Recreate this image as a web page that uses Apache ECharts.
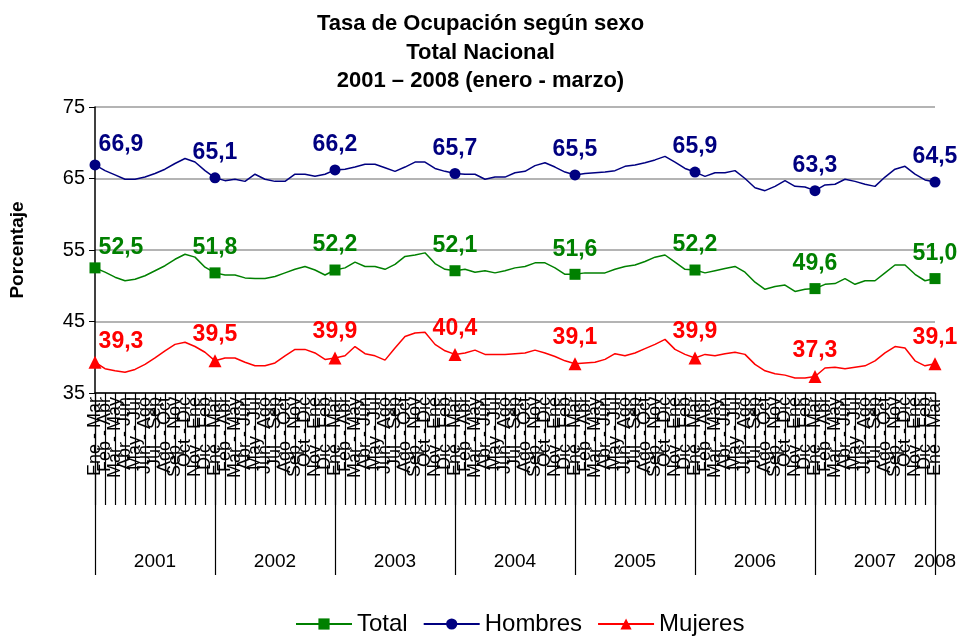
<!DOCTYPE html>
<html>
<head>
    <meta charset="utf-8">
    <title>Tasa de Ocupación según sexo</title>
    <script src="https://cdn.jsdelivr.net/npm/echarts@6/dist/echarts.min.js"></script>
</head>
<body style="margin:0">
    <div id="chart" style="width: 961px; height: 641px;"></div>
    <script type="text/javascript">
        // trimestres móviles y años
        const quarters = ['Ene - Mar', 'Feb - Abr', 'Mar - May', 'Abr - Jun', 'May - Jul', 'Jun - Ago',
                          'Jul - Sep', 'Ago - Oct', 'Sep - Nov', 'Oct - Dic', 'Nov - Ene', 'Dic - Feb'];
        const years = ['2001', '2002', '2003', '2004', '2005', '2006', '2007', '2008'];

        const total = [
            52.5, 51.9, 51.2, 50.7, 50.9, 51.4, 52.1, 52.8, 53.7, 54.4, 54.0, 52.6,
            51.8, 51.5, 51.5, 51.1, 51.0, 51.0, 51.3, 51.8, 52.3, 52.7, 52.2, 51.5,
            52.2, 52.5, 53.3, 52.7, 52.7, 52.3, 53.0, 54.1, 54.3, 54.6, 53.1, 52.3,
            52.1, 52.3, 51.9, 52.1, 51.8, 52.1, 52.5, 52.7, 53.2, 53.2, 52.5, 51.6,
            51.6, 51.8, 51.8, 51.8, 52.3, 52.7, 52.9, 53.4, 54.0, 54.3, 53.3, 52.3,
            52.2, 51.8, 52.1, 52.4, 52.7, 51.9, 50.5, 49.5, 49.9, 50.1, 49.2, 49.5,
            49.6, 50.2, 50.3, 51.0, 50.2, 50.7, 50.7, 51.8, 52.9, 52.9, 51.6, 50.7,
            51.0
        ];
        const hombres = [
            66.9, 66.1, 65.5, 64.9, 64.9, 65.2, 65.7, 66.3, 67.1, 67.8, 67.3, 66.1,
            65.1, 64.7, 64.9, 64.6, 65.6, 64.9, 64.6, 64.6, 65.6, 65.6, 65.3, 65.6,
            66.2, 66.3, 66.6, 67.0, 67.0, 66.5, 66.0, 66.6, 67.3, 67.3, 66.4, 66.0,
            65.7, 65.6, 65.6, 64.9, 65.2, 65.2, 65.8, 66.0, 66.8, 67.2, 66.6, 65.9,
            65.5, 65.7, 65.8, 65.9, 66.1, 66.7, 66.9, 67.2, 67.6, 68.1, 67.3, 66.4,
            65.9, 65.3, 65.8, 65.8, 66.1, 65.0, 63.7, 63.3, 63.9, 64.7, 63.9, 63.8,
            63.3, 64.1, 64.2, 64.9, 64.6, 64.2, 63.9, 65.2, 66.3, 66.7, 65.6, 64.8,
            64.5
        ];
        const mujeres = [
            39.3, 38.4, 38.1, 37.9, 38.3, 39.0, 39.9, 40.9, 41.8, 42.1, 41.5, 40.7,
            39.5, 39.9, 39.9, 39.3, 38.8, 38.8, 39.2, 40.2, 41.1, 41.1, 40.6, 39.7,
            39.9, 40.2, 41.5, 40.5, 40.2, 39.6, 41.3, 42.9, 43.4, 43.5, 41.8, 40.9,
            40.4, 40.6, 41.0, 40.4, 40.4, 40.4, 40.5, 40.6, 41.0, 40.6, 40.1, 39.5,
            39.1, 39.2, 39.3, 39.7, 40.5, 40.2, 40.6, 41.2, 41.8, 42.5, 41.1, 40.4,
            39.9, 40.4, 40.2, 40.5, 40.7, 40.4, 39.0, 38.1, 37.7, 37.5, 37.1, 37.1,
            37.3, 38.5, 38.6, 38.4, 38.6, 38.8, 39.5, 40.6, 41.5, 41.3, 39.5, 38.8,
            39.1
        ];

        // 7 años completos + enero-marzo 2008
        const categories = [];
        const yearCats = [];
        for (let i = 0; i < total.length; i++) {
            categories.push(quarters[i % 12]);
            yearCats.push(years[Math.floor(i / 12)]);
        }

        const fontFamily = 'Arial, "Liberation Sans", sans-serif';

        // solo el trimestre enero-marzo lleva marcador y etiqueta
        function buildData(values) {
            return values.map(function(v, i) {
                if (i % 12 !== 0) {
                    return {value: v, symbol: 'none', label: {show: false}};
                }
                return {
                    value: v,
                    label: {
                        show: true,
                        offset: i === 0 ? [26, 5] : [0, 0]
                    }
                };
            });
        }

        function makeSeries(name, values, color, symbol, size) {
            return {
                name: name,
                type: 'line',
                data: buildData(values),
                symbol: symbol,
                symbolSize: size,
                showAllSymbol: true,
                color: color,
                lineStyle: {color: color, width: 1.5},
                itemStyle: {color: color},
                label: {
                    position: 'top',
                    distance: 8,
                    color: color,
                    fontSize: 23,
                    fontWeight: 'bold',
                    fontFamily: fontFamily,
                    formatter: function(p) {
                        return p.value.toFixed(1).replace('.', ',');
                    }
                },
                emphasis: {disabled: true},
                animation: false
            };
        }

        let myChart = echarts.init(document.getElementById('chart'));
        let option = {
            backgroundColor: '#ffffff',
            title: {
                text: 'Tasa de Ocupación según sexo\nTotal Nacional\n2001 – 2008 (enero - marzo)',
                left: 'center',
                top: 5,
                textStyle: {
                    fontFamily: fontFamily,
                    fontSize: 22,
                    fontWeight: 'bold',
                    color: '#000',
                    lineHeight: 28.5
                }
            },
            legend: {
                bottom: 0,
                left: 290,
                itemWidth: 56,
                itemHeight: 14,
                itemGap: 15,
                textStyle: {fontFamily: fontFamily, fontSize: 24, color: '#000'},
                data: ['Total', 'Hombres', 'Mujeres']
            },
            grid: {
                left: 95,
                right: 26,
                top: 107,
                bottom: 248,
                containLabel: false
            },
            xAxis: [{
                type: 'category',
                data: categories,
                boundaryGap: false,
                axisLine: {lineStyle: {color: '#000', width: 1.5}},
                axisTick: {interval: 0, length: 112, lineStyle: {color: '#000', width: 1.2}},
                axisLabel: {
                    interval: 0,
                    rotate: 90,
                    margin: 4,
                    fontSize: 18,
                    fontFamily: fontFamily,
                    color: '#000'
                },
                splitLine: {show: false}
            }, {
                type: 'category',
                data: yearCats,
                boundaryGap: false,
                position: 'bottom',
                axisLine: {show: false},
                axisTick: {
                    interval: function(i) { return i % 12 === 0; },
                    length: 182,
                    lineStyle: {color: '#000', width: 1.2}
                },
                axisLabel: {
                    interval: function(i) { return i % 12 === 6 || i === 84; },
                    margin: 159,
                    fontSize: 19,
                    fontFamily: fontFamily,
                    color: '#000'
                },
                splitLine: {show: false}
            }],
            yAxis: {
                type: 'value',
                min: 35,
                max: 75,
                interval: 10,
                name: 'Porcentaje',
                nameLocation: 'middle',
                nameGap: 68,
                nameTextStyle: {fontFamily: fontFamily, fontSize: 19, fontWeight: 'bold', color: '#000'},
                axisLine: {show: true, lineStyle: {color: '#000', width: 1.5}},
                axisTick: {show: true, length: 6, lineStyle: {color: '#000'}},
                axisLabel: {fontFamily: fontFamily, fontSize: 20, color: '#000', margin: 10},
                splitLine: {lineStyle: {color: '#b4b4b4', width: 2}}
            },
            series: [
                makeSeries('Total', total, '#008000', 'rect', 11),
                makeSeries('Hombres', hombres, '#000080', 'circle', 11),
                makeSeries('Mujeres', mujeres, '#ff0000', 'triangle', 13)
            ]
        };

        myChart.setOption(option);
    </script>
</body>
</html>
